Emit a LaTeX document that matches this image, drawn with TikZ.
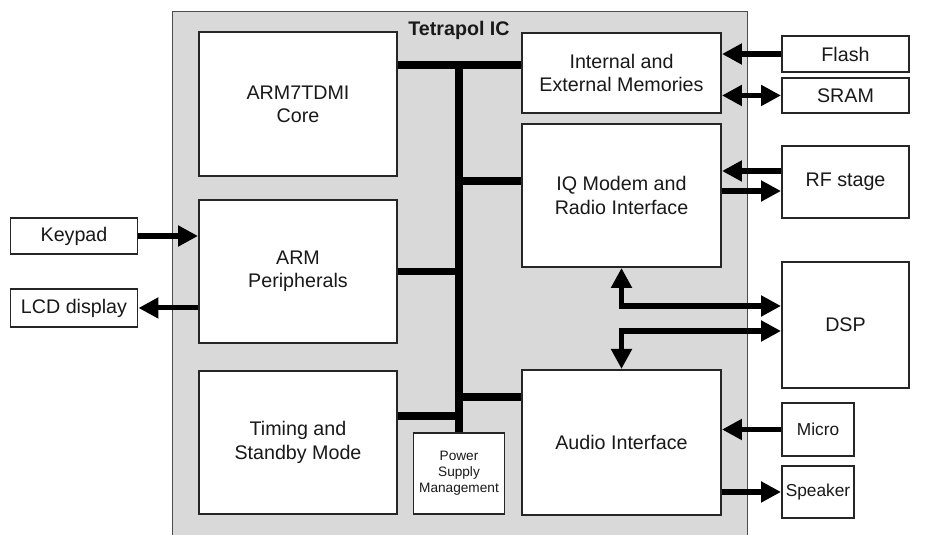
\documentclass[tikz,border=0pt]{standalone}
\usepackage{fontspec}
\setmainfont{Liberation Sans}
\usetikzlibrary{positioning,arrows.meta,calc}

\begin{document}
\begin{tikzpicture}[
    node distance=0.6cm,
    font=\fontsize{14}{16.6}\selectfont,
    chip/.style={draw=black!70, line width=0.7pt, fill=gray!30, minimum width=14.375cm, minimum height=13.4cm, anchor=north west, inner sep=0pt},
    box/.style={draw=black!85, line width=1.4pt, fill=white, align=center, inner sep=1pt, text=black!90},
    ext/.style={box, minimum width=3.175cm},
    small/.style={font=\fontsize{12.3}{14}\selectfont},
    bus/.style={line width=5pt},
    arrow/.style={-{Triangle[length=0.5cm, width=0.5cm]}, line width=3.6pt},
    dblarrow/.style={{Triangle[length=0.5cm, width=0.5cm]}-{Triangle[length=0.5cm, width=0.5cm]}, line width=3.6pt}
]
\useasboundingbox (0,0) rectangle (23.325,-13.375);
\node[chip] (ic) at (4.3,-0.275) {};
\node[font=\fontsize{14}{16.6}\selectfont\bfseries, text=black!90] (title) at (11.475,-0.77) {Tetrapol IC};

\node[box, minimum width=4.95cm, minimum height=3.6cm] (arm) at (7.45,-2.6) {ARM7TDMI\\Core};
\node[box, minimum width=4.95cm, minimum height=3.575cm, below=0.55cm of arm] (periph) {ARM\\Peripherals};
\node[box, minimum width=4.95cm, minimum height=3.575cm, below=0.65cm of periph] (timing) {Timing and\\Standby Mode};
\node[box, minimum width=2.275cm, minimum height=2.025cm, font=\fontsize{9.7}{11.4}\selectfont] (psm) at (11.475,-11.8375) {Power\\Supply\\Management};

\node[box, minimum width=4.975cm, minimum height=2cm] (mem) at (15.5375,-1.825) {Internal and\\External Memories};
\node[box, minimum width=4.975cm, minimum height=3.575cm, below=0.225cm of mem] (iq) {IQ Modem and\\Radio Interface};
\node[box, minimum width=4.975cm, minimum height=3.625cm, below=2.525cm of iq] (audio) {Audio Interface};

\node[ext, minimum height=0.9cm] (flash) at (21.1375,-1.35) {Flash};
\node[ext, minimum height=0.875cm, below=0.1cm of flash] (sram) {SRAM};
\node[ext, minimum height=1.8cm] (rf) at (21.1375,-4.55) {RF stage};
\node[ext, minimum height=3.15cm] (dsp) at (21.1375,-8.125) {DSP};
\node[box, small, minimum width=1.8cm, minimum height=1.325cm] (micro) at (20.45,-10.7375) {Micro};
\node[box, small, minimum width=1.8cm, minimum height=1.3cm, below=0.2cm of micro] (speaker) {Speaker};

\node[ext, minimum height=0.9cm] (keypad) at (1.85,-5.9) {Keypad};
\node[ext, minimum height=0.95cm, below=0.825cm of keypad] (lcd) {LCD display};

\coordinate (bustop) at (11.475,-1.625);
\coordinate (tapiq) at (11.475,-4.525);
\coordinate (tapaudio) at (11.475,-9.925);
\coordinate (taptiming) at (11.475,-10.4);
\draw[bus] (arm.east |- bustop) -- (mem.west |- bustop);
\draw[bus] (bustop) -- (psm.north);
\draw[bus] (tapiq) -- (tapiq -| iq.west);
\draw[bus] (periph.east) -- (periph.east -| bustop);
\draw[bus] (tapaudio) -- (tapaudio -| audio.west);
\draw[bus] (taptiming -| timing.east) -- (taptiming);

\draw[arrow] (flash.west) -- (flash.west -| mem.east);
\draw[dblarrow] (sram.west -| mem.east) -- (sram.west);
\draw[arrow] ([yshift=0.275cm]rf.west) -- ([yshift=0.275cm]rf.west -| iq.east);
\draw[arrow] ([yshift=-0.225cm]rf.west -| iq.east) -- ([yshift=-0.225cm]rf.west);
\draw[dblarrow] (iq.south) |- ([yshift=0.475cm]dsp.west);
\draw[dblarrow] (audio.north) |- ([yshift=-0.15cm]dsp.west);
\draw[arrow] (micro.west) -- (micro.west -| audio.east);
\draw[arrow] (speaker.west -| audio.east) -- (speaker.west);
\draw[arrow] (keypad.east) -- (keypad.east -| periph.west);
\draw[arrow] (lcd.east -| periph.west) -- (lcd.east);
\end{tikzpicture}
\end{document}
